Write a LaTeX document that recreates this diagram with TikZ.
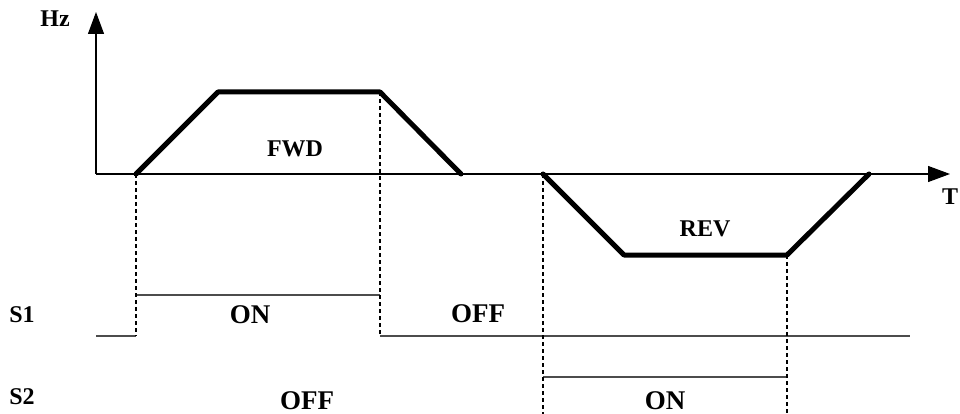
\documentclass[tikz,border=0pt]{standalone}
\usepackage{fontspec}
\setmainfont{Liberation Serif}
\usetikzlibrary{arrows.meta}

\begin{document}
\begin{tikzpicture}[x=1pt, y=-1pt,
    axis/.style={line width=1.2pt, -{Triangle[length=22pt,width=16pt]}},
    speed/.style={line width=5pt, line cap=round, line join=round},
    signal/.style={line width=1.4pt, draw=black!70},
    guide/.style={line width=1.2pt, dash pattern=on 4pt off 3pt},
    lbl/.style={font=\bfseries\fontsize{24}{24}\selectfont, inner sep=0pt},
    state/.style={font=\bfseries\fontsize{27}{27}\selectfont, inner sep=0pt}]
    \useasboundingbox (0,0) rectangle (960,414);
    % axes
    \coordinate (o) at (96,174);
    \coordinate (ytip) at (96,12);
    \coordinate (xtip) at (950,174);
    \draw[axis] (o) -- (ytip);
    \draw[axis] (o) -- (xtip);
    \node[lbl] (hz) at (55,19) {Hz};
    \node[lbl] (t) at (950,197) {T};
    % forward run
    \coordinate (f0) at (136,174);
    \coordinate (f1) at (218,92);
    \coordinate (f2) at (380,92);
    \coordinate (f3) at (461,174);
    \draw[speed] (f0) -- (f1) -- (f2) -- (f3);
    \node[lbl] (fwd) at (295,149) {FWD};
    % reverse run
    \coordinate (r0) at (543,174);
    \coordinate (r1) at (624,255);
    \coordinate (r2) at (787,255);
    \coordinate (r3) at (869,174);
    \draw[speed] (r0) -- (r1) -- (r2) -- (r3);
    \node[lbl] (rev) at (705,229) {REV};
    % switch S1
    \node[lbl] (s1) at (22,315) {S1};
    \coordinate (s1a) at (96,336);
    \coordinate (s1b) at (136,336);
    \coordinate (s1c) at (136,295);
    \coordinate (s1d) at (380,295);
    \coordinate (s1e) at (380,336);
    \coordinate (s1f) at (910,336);
    \draw[signal] (s1a) -- (s1b);
    \draw[signal] (s1c) -- (s1d);
    \draw[signal] (s1e) -- (s1f);
    \node[state] (s1on) at (250,315) {ON};
    \node[state] (s1off) at (478,314) {OFF};
    % switch S2
    \node[lbl] (s2) at (22,397) {S2};
    \coordinate (s2a) at (543,377);
    \coordinate (s2b) at (787,377);
    \draw[signal] (s2a) -- (s2b);
    \node[state] (s2off) at (307,401) {OFF};
    \node[state] (s2on) at (665,401) {ON};
    % guides
    \draw[guide] (f0) -- (s1b);
    \draw[guide] (f2) -- (s1e);
    \draw[guide] (r0) -- (543,414);
    \draw[guide] (r2) -- (787,414);
\end{tikzpicture}
\end{document}
